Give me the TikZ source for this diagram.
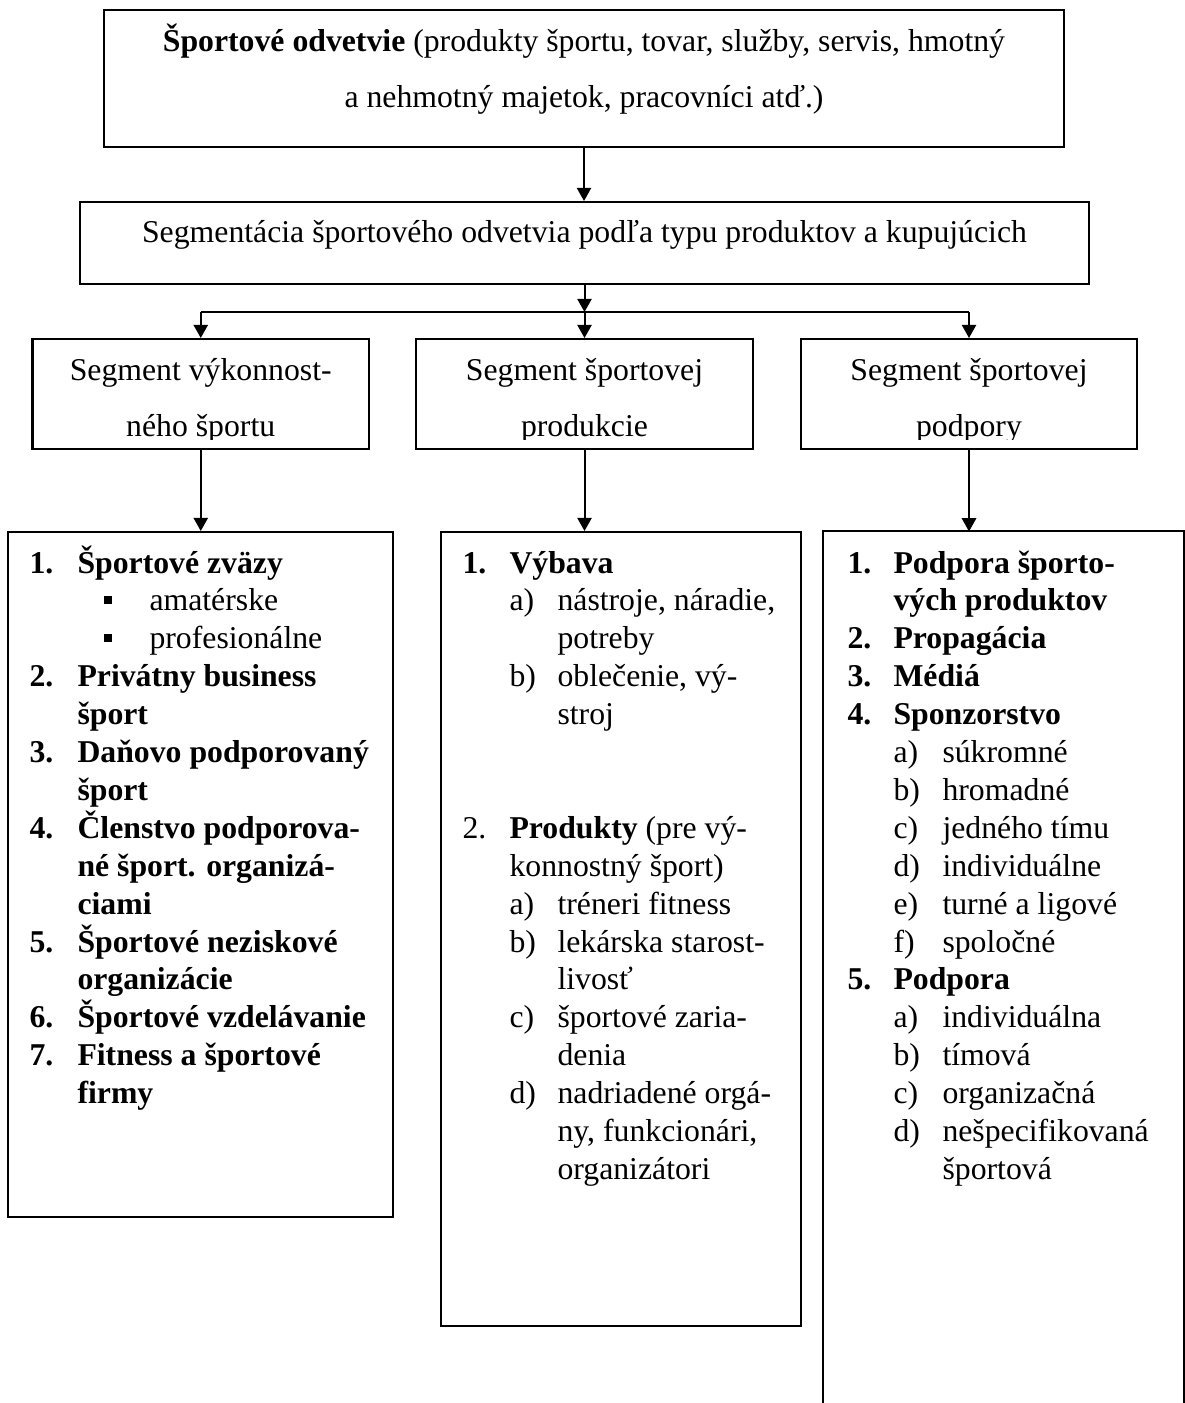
\documentclass[tikz,border=0pt]{standalone}
\usepackage{fontspec}
\setmainfont{Liberation Serif}
\usetikzlibrary{arrows.meta,fit}

% one drawing unit = one pixel of the layout grid
\newlength\px
\setlength\px{0.378pt}

% one line of a list: label starts at #1, text starts at #3 (offsets in px)
\newcommand\lstline[4]{\hbox{\hskip\dimexpr\px*#1\relax\rlap{#2}\hskip\dimexpr\px*(#3-#1)\relax #4}}
% a block of list lines with fixed line pitch
\newcommand\lstblock[1]{\vtop{\baselineskip=37.9\px\lineskiplimit=-\maxdimen\lineskip=0pt #1}}
\newcommand\sqbullet{\rule[7\px]{8\px}{8\px}}

\tikzset{
  box/.style={draw=black, line width=0.76pt, inner sep=0pt},
  boxline/.style={draw=black, line width=0.76pt},
  conn/.style={draw=black, line width=0.76pt},
  arr/.style={conn, -{Triangle[length=5pt,width=5.4pt]}},
  label/.style={inner sep=0pt, font=\fontsize{12pt}{14pt}\selectfont, anchor=base},
  listtext/.style={inner sep=0pt, font=\fontsize{12pt}{14pt}\selectfont, anchor=base west},
}

\begin{document}
\begin{tikzpicture}[x=\px, y=-\px]
\useasboundingbox (0,0) rectangle (1185,1403);

% --- boxes ---
\node[box, fit={(104,10) (1064,147)}] (top) {};
\node[box, fit={(80,202) (1089,284)}] (seg) {};
\node[box, fit={(32.5,339) (369,449)}] (segA) {};
\node[box, fit={(416,339) (753,449)}] (segB) {};
\node[box, fit={(801,339) (1137,449)}] (segC) {};
\node[box, fit={(8,532) (393,1217)}] (listA) {};
\node[box, fit={(441,532) (801,1326)}] (listB) {};
\node[inner sep=0pt, fit={(824,532) (1183,1403)}] (listC) {};
\draw[boxline] (listC.south west) -- (listC.north west) -- (listC.north east) -- (listC.south east);

% --- headings ---
\node[label] (topA) at (584,52) {\textbf{Športové odvetvie} (produkty športu, tovar, služby, servis, hmotný};
\node[label] (topB) at (584,108) {a nehmotný majetok, pracovníci atď.)};
\node[label] (segT) at (584.5,243) {Segmentácia športového odvetvia podľa typu produktov a kupujúcich};

% segment captions, cut off at the lower text margin
\begin{scope}
  \clip (0,330) rectangle (1185,439);
  \node[label] (segA1) at (200.75,380) {Segment výkonnost-};
  \node[label] (segA2) at (200.75,436) {ného športu};
  \node[label] (segB1) at (584.5,380) {Segment športovej};
  \node[label] (segB2) at (584.5,436) {produkcie};
  \node[label] (segC1) at (969,380) {Segment športovej};
  \node[label] (segC2) at (969,436) {podpory};
\end{scope}

% --- connectors ---
\coordinate (j)  at (seg.south |- 0,312);
\coordinate (jl) at (segA.north |- 0,312);
\coordinate (jr) at (segC.north |- 0,312);
\draw[arr] (top.south) -- (top.south |- seg.north);
\draw[arr] (seg.south) -- (j);
\draw[conn] (jl) -- (jr);
\draw[arr] (jl) -- (segA.north);
\draw[arr] (j) -- (segB.north);
\draw[arr] (jr) -- (segC.north);
\draw[arr] (segA.south) -- (segA.south |- listA.north);
\draw[arr] (segB.south) -- (segB.south |- listB.north);
\draw[arr] (segC.south) -- (segC.south |- listC.north);

% --- list contents ---
\node[listtext] (listAtext) at (8,573) {\lstblock{%
  \lstline{21}{\bfseries 1.}{69}{\bfseries Športové zväzy}
  \lstline{95}{\sqbullet}{141}{amatérske}
  \lstline{95}{\sqbullet}{141}{profesionálne}
  \lstline{21}{\bfseries 2.}{69}{\bfseries Privátny business}
  \lstline{21}{}{69}{\bfseries šport}
  \lstline{21}{\bfseries 3.}{69}{\bfseries Daňovo podporovaný}
  \lstline{21}{}{69}{\bfseries šport}
  \lstline{21}{\bfseries 4.}{69}{\bfseries Členstvo podporova-}
  \lstline{21}{}{69}{\bfseries né šport. organizá-}
  \lstline{21}{}{69}{\bfseries ciami}
  \lstline{21}{\bfseries 5.}{69}{\bfseries Športové neziskové}
  \lstline{21}{}{69}{\bfseries organizácie}
  \lstline{21}{\bfseries 6.}{69}{\bfseries Športové vzdelávanie}
  \lstline{21}{\bfseries 7.}{69}{\bfseries Fitness a športové}
  \lstline{21}{}{69}{\bfseries firmy}
}};

\node[listtext] (listBtext) at (441,573) {\lstblock{%
  \lstline{21}{\bfseries 1.}{68}{\bfseries Výbava}
  \lstline{68}{a)}{116}{nástroje, náradie,}
  \lstline{68}{}{116}{potreby}
  \lstline{68}{b)}{116}{oblečenie, vý-}
  \lstline{68}{}{116}{stroj}
  \hbox{}
  \hbox{}
  \lstline{21}{2.}{68}{\textbf{Produkty} (pre vý-}
  \lstline{21}{}{68}{konnostný šport)}
  \lstline{68}{a)}{116}{tréneri fitness}
  \lstline{68}{b)}{116}{lekárska starost-}
  \lstline{68}{}{116}{livosť}
  \lstline{68}{c)}{116}{športové zaria-}
  \lstline{68}{}{116}{denia}
  \lstline{68}{d)}{116}{nadriadené orgá-}
  \lstline{68}{}{116}{ny, funkcionári,}
  \lstline{68}{}{116}{organizátori}
}};

\node[listtext] (listCtext) at (824,573) {\lstblock{%
  \lstline{23}{\bfseries 1.}{69}{\bfseries Podpora športo-}
  \lstline{23}{}{69}{\bfseries vých produktov}
  \lstline{23}{\bfseries 2.}{69}{\bfseries Propagácia}
  \lstline{23}{\bfseries 3.}{69}{\bfseries Médiá}
  \lstline{23}{\bfseries 4.}{69}{\bfseries Sponzorstvo}
  \lstline{69}{a)}{118}{súkromné}
  \lstline{69}{b)}{118}{hromadné}
  \lstline{69}{c)}{118}{jedného tímu}
  \lstline{69}{d)}{118}{individuálne}
  \lstline{69}{e)}{118}{turné a ligové}
  \lstline{69}{f)}{118}{spoločné}
  \lstline{23}{\bfseries 5.}{69}{\bfseries Podpora}
  \lstline{69}{a)}{118}{individuálna}
  \lstline{69}{b)}{118}{tímová}
  \lstline{69}{c)}{118}{organizačná}
  \lstline{69}{d)}{118}{nešpecifikovaná}
  \lstline{69}{}{118}{športová}
}};
\end{tikzpicture}
\end{document}
